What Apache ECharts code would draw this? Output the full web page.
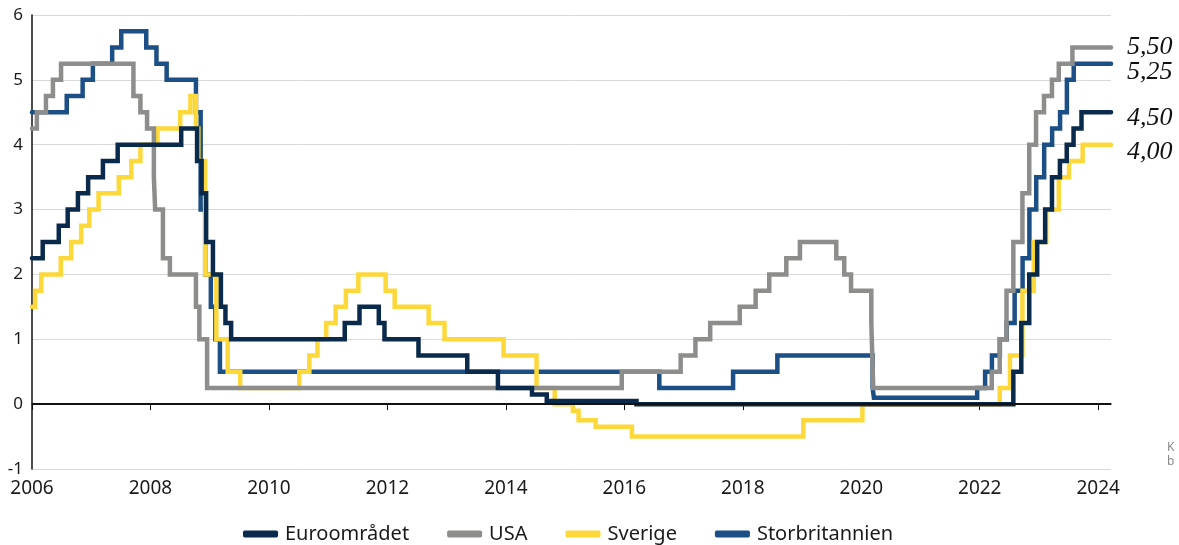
<!DOCTYPE html>
<html>
<head>
<meta charset="utf-8">
<title>Styrräntor</title>
<script src="https://cdn.jsdelivr.net/npm/echarts@6/dist/echarts.min.js"></script>
<style>
  html, body { margin: 0; padding: 0; background: #fff; }
  #chart { width: 1179px; height: 545px; }
</style>
</head>
<body>
<div id="chart"></div>
<script>
// styrräntor, datum då ny ränta gäller
var endDate = '2024-03-20';

var euroDates = ['2006-01-01','2006-03-08','2006-06-15','2006-08-09','2006-10-11','2006-12-13','2007-03-14','2007-06-13',
  '2008-07-09','2008-10-15','2008-11-12','2008-12-10','2009-01-21','2009-03-11','2009-04-08','2009-05-13',
  '2011-04-13','2011-07-13','2011-11-09','2011-12-14','2012-07-11','2013-05-08','2013-11-13','2014-06-11','2014-09-10',
  '2016-03-16','2022-07-27','2022-09-14','2022-11-02','2022-12-21','2023-02-08','2023-03-22','2023-05-10','2023-06-21',
  '2023-08-02','2023-09-20'];
var euroRates = [2.25,2.5,2.75,3,3.25,3.5,3.75,4,
  4.25,3.75,3.25,2.5,2,1.5,1.25,1,
  1.25,1.5,1.25,1,0.75,0.5,0.25,0.15,0.05,
  0,0.5,1.25,2,2.5,3,3.5,3.75,4,
  4.25,4.5];

var usaDates = ['2006-01-01','2006-01-31','2006-03-28','2006-05-10','2006-06-29','2007-09-18','2007-10-31','2007-12-11',
  '2008-01-22','2008-01-30','2008-03-18','2008-04-30','2008-10-08','2008-10-29','2008-12-16',
  '2015-12-16','2016-12-14','2017-03-15','2017-06-14','2017-12-13','2018-03-21','2018-06-13','2018-09-26','2018-12-19',
  '2019-07-31','2019-09-18','2019-10-30','2020-03-03','2020-03-15',
  '2022-03-16','2022-05-04','2022-06-15','2022-07-27','2022-09-21','2022-11-02','2022-12-14',
  '2023-02-01','2023-03-22','2023-05-03','2023-07-26'];
var usaRates = [4.25,4.5,4.75,5,5.25,4.75,4.5,4.25,
  3.5,3,2.25,2,1.5,1,0.25,
  0.5,0.75,1,1.25,1.5,1.75,2,2.25,2.5,
  2.25,2,1.75,1.25,0.25,
  0.5,1,1.75,2.5,3.25,4,4.5,
  4.75,5,5.25,5.5];

var sweDates = ['2006-01-01','2006-01-20','2006-02-27','2006-06-27','2006-08-30','2006-10-31','2006-12-20','2007-02-15',
  '2007-06-20','2007-09-05','2007-10-31','2008-02-13','2008-07-03','2008-09-04','2008-10-08','2008-10-23','2008-12-04',
  '2009-02-11','2009-04-22','2009-07-08','2010-07-07','2010-09-07','2010-10-27','2010-12-20','2011-02-16','2011-04-20',
  '2011-07-06','2011-12-21','2012-02-15','2012-09-12','2012-12-19','2013-12-18','2014-07-09','2014-10-29',
  '2015-02-18','2015-03-25','2015-07-08','2016-02-17','2019-01-09','2020-01-08',
  '2022-05-04','2022-07-06','2022-09-21','2022-11-30','2023-02-15','2023-05-03','2023-07-05','2023-09-27'];
var sweRates = [1.5,1.75,2,2.25,2.5,2.75,3,3.25,
  3.5,3.75,4,4.25,4.5,4.75,4.25,3.75,2,
  1,0.5,0.25,0.5,0.75,1,1.25,1.5,1.75,
  2,1.75,1.5,1.25,1,0.75,0.25,0,
  -0.1,-0.25,-0.35,-0.5,-0.25,0,
  0.25,0.75,1.75,2.5,3,3.5,3.75,4];

var ukDates = ['2006-01-01','2006-08-03','2006-11-09','2007-01-11','2007-05-10','2007-07-05','2007-12-06','2008-02-07',
  '2008-04-10','2008-10-08','2008-11-06','2008-12-04','2009-01-08','2009-02-05','2009-03-05',
  '2016-08-04','2017-11-02','2018-08-02','2020-03-11','2020-03-19','2021-12-16',
  '2022-02-03','2022-03-17','2022-05-05','2022-06-16','2022-08-04','2022-09-22','2022-11-03','2022-12-15',
  '2023-02-02','2023-03-23','2023-05-11','2023-06-22','2023-08-03'];
var ukRates = [4.5,4.75,5,5.25,5.5,5.75,5.5,5.25,
  5,4.5,3,2,1.5,1,0.5,
  0.25,0.5,0.75,0.25,0.1,0.25,
  0.5,0.75,1,1.25,1.75,2.25,3,3.5,
  4,4.25,4.5,5,5.25];

var yearTicks = [2006,2008,2010,2012,2014,2016,2018,2020,2022,2024];

function toYear(s) {
  var p = s.split('-');
  var y = +p[0];
  var start = Date.UTC(y, 0, 1);
  var t = Date.UTC(y, +p[1] - 1, +p[2]);
  return y + (t - start) / (Date.UTC(y + 1, 0, 1) - start);
}

function buildData(dates, rates) {
  var out = [];
  for (var i = 0; i < dates.length; i++) {
    out.push([toYear(dates[i]), rates[i]]);
  }
  out.push([toYear(endDate), rates[rates.length - 1]]);
  return out;
}

function lineSeries(name, dates, rates, color, offsetY) {
  return {
    name: name,
    type: 'line',
    step: 'end',
    symbol: 'none',
    data: buildData(dates, rates),
    lineStyle: { width: 4.5, color: color, cap: 'round', join: 'miter' },
    itemStyle: { color: color },
    endLabel: {
      show: true,
      distance: 16,
      offset: [0, offsetY],
      fontFamily: 'Liberation Serif',
      fontStyle: 'italic',
      fontSize: 26,
      color: '#111',
      formatter: function (p) {
        return p.value[1].toFixed(2).replace('.', ',');
      }
    },
    emphasis: { disabled: true }
  };
}

var font = 'Noto Sans';
var chart = echarts.init(document.getElementById('chart'));
var option = {
  animation: false,
  backgroundColor: '#fff',
  textStyle: { fontFamily: font },
  grid: { left: 32, right: 68, top: 15, bottom: 76, containLabel: false },
  legend: {
    left: 238,
    top: 519,
    icon: 'roundRect',
    itemWidth: 35,
    itemHeight: 7,
    itemGap: 38,
    textStyle: { fontFamily: font, fontSize: 20, color: '#1a1a1a', padding: [0, 0, 0, 2] },
    data: ['Euroområdet', 'USA', 'Sverige', 'Storbritannien']
  },
  xAxis: {
    type: 'value',
    min: 2006,
    max: toYear(endDate),
    interval: 2,
    axisLine: { show: true, lineStyle: { color: '#111', width: 1.5 } },
    axisTick: { show: true, length: 6, lineStyle: { color: '#111' } },
    axisLabel: {
      fontSize: 19, color: '#1a1a1a', margin: 10,
      showMaxLabel: false,
      formatter: function (v) { return yearTicks.indexOf(v) >= 0 ? String(v) : ''; }
    },
    splitLine: { show: false }
  },
  yAxis: {
    type: 'value',
    min: -1,
    max: 6,
    interval: 1,
    axisLine: { show: true, lineStyle: { color: '#111', width: 1.5 } },
    axisTick: { show: false },
    axisLabel: { fontSize: 17, color: '#1a1a1a', margin: 9 },
    splitLine: { show: true, lineStyle: { color: '#d9d9d9', width: 1 } }
  },
  graphic: [
    { type: 'text', left: 1167, top: 442, style: { text: 'K', fill: '#888', font: '12px "Noto Sans"' } },
    { type: 'text', left: 1167, top: 456, style: { text: 'b', fill: '#888', font: '12px "Noto Sans"' } }
  ],
  series: [
    lineSeries('Storbritannien', ukDates, ukRates, '#1b4f85', 9),
    lineSeries('Sverige', sweDates, sweRates, '#fdd83a', 7),
    lineSeries('USA', usaDates, usaRates, '#8d8d8b', 0),
    (function () {
      var s = lineSeries('Euroområdet', euroDates, euroRates, '#0a2a4c', 6);
      s.markLine = {
        silent: true,
        symbol: 'none',
        label: { show: false },
        lineStyle: { color: '#111', width: 2, type: 'solid' },
        data: [{ yAxis: 0 }]
      };
      return s;
    })()
  ]
};
chart.setOption(option);
window.addEventListener('resize', chart.resize);
</script>
</body>
</html>
